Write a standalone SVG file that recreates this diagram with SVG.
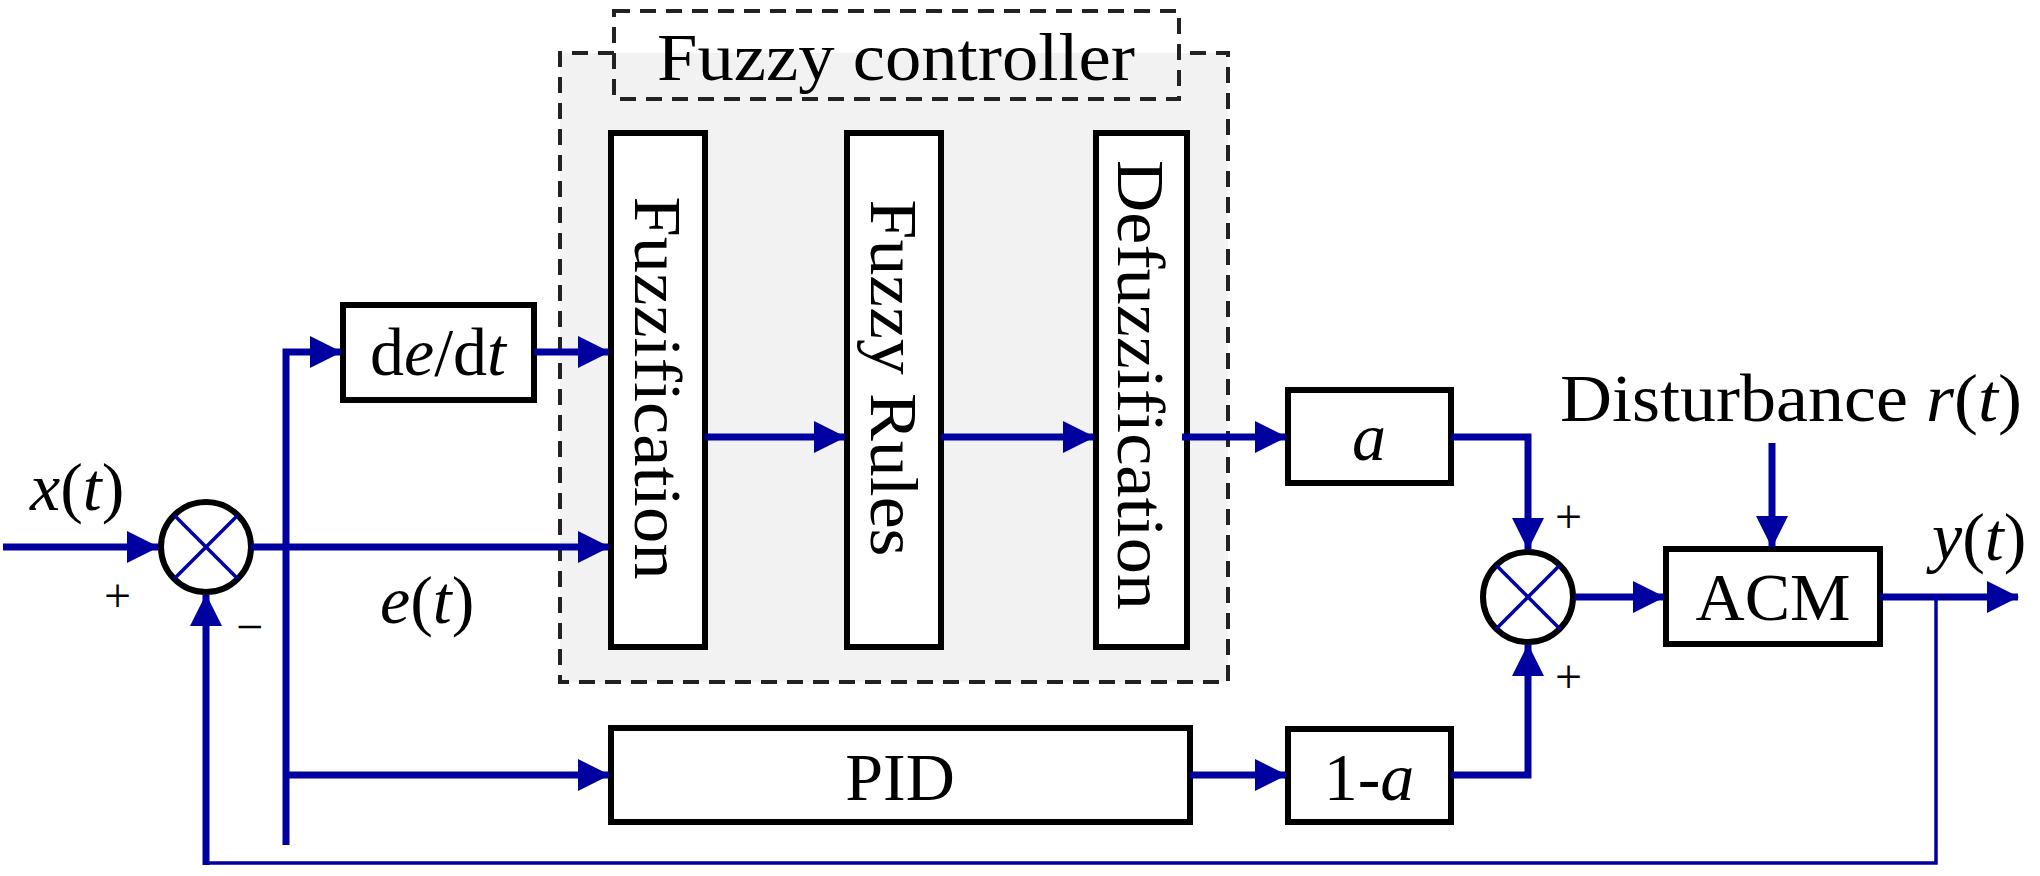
<svg xmlns="http://www.w3.org/2000/svg" width="2040" height="876" viewBox="0 0 2040 876">
<style>
.box{fill:#fff;stroke:#000;stroke-width:6}
.dash{fill:none;stroke:#222;stroke-width:4;stroke-dasharray:16 10}
.w{stroke:#0000a0;stroke-width:7;fill:none}
.thin{stroke:#0000a0;stroke-width:3.5;fill:none}
.sum{fill:#fff;stroke:#000;stroke-width:6}
.x{stroke:#0000a0;stroke-width:3.5}
text{font-family:"Liberation Serif","DejaVu Serif",serif;font-size:68px;fill:#000}
.i{font-style:italic}
.pm{font-size:48px}
</style>
<defs>
<marker id="ah" markerUnits="userSpaceOnUse" markerWidth="32" markerHeight="32" refX="31" refY="16" orient="auto" viewBox="0 0 32 32">
<path d="M0,0 L32,16 L0,32 z" fill="#0000a0"/>
</marker>
</defs>
<g id="fuzzy-controller">
<path d="M560,53 H1228 V682 H560 z" fill="#f2f2f2"/>
<path class="dash" d="M614,53 H560 V682 H1228 V53 H1179"/>
<rect x="614" y="11" width="565" height="88" fill="#fff" class="dash"/>
<text x="896" y="80" text-anchor="middle" textLength="478" lengthAdjust="spacingAndGlyphs">Fuzzy controller</text>
</g>
<g id="fuzzification"><rect class="box" x="611" y="133" width="94" height="514"/>
<text transform="translate(658,388) rotate(90)" text-anchor="middle" dominant-baseline="central" textLength="383" lengthAdjust="spacingAndGlyphs">Fuzzification</text></g>
<g id="fuzzy-rules"><rect class="box" x="847" y="133" width="94" height="514"/>
<text transform="translate(894,378) rotate(90)" text-anchor="middle" dominant-baseline="central" textLength="357" lengthAdjust="spacingAndGlyphs">Fuzzy Rules</text></g>
<g id="defuzzification"><rect class="box" x="1096" y="133" width="91" height="514"/>
<text transform="translate(1141,385) rotate(90)" text-anchor="middle" dominant-baseline="central" textLength="450" lengthAdjust="spacingAndGlyphs">Defuzzification</text></g>
<g id="dedt"><rect class="box" x="343" y="305" width="191" height="95"/>
<text x="438" y="375" text-anchor="middle">d<tspan class="i">e</tspan>/d<tspan class="i">t</tspan></text></g>
<g id="gain-a"><rect class="box" x="1288" y="390" width="163" height="93"/>
<text x="1369" y="460" text-anchor="middle" class="i">a</text></g>
<g id="gain-1-a"><rect class="box" x="1288" y="729" width="163" height="93"/>
<text x="1369" y="800" text-anchor="middle">1-<tspan class="i">a</tspan></text></g>
<g id="pid"><rect class="box" x="611" y="728" width="579" height="94"/>
<text x="900" y="800" text-anchor="middle">PID</text></g>
<g id="acm"><rect class="box" x="1666" y="549" width="214" height="95"/>
<text x="1773" y="620" text-anchor="middle">ACM</text></g>
<g id="sum1"><circle class="sum" cx="206" cy="547" r="45"/>
<line class="x" x1="174" y1="515" x2="238" y2="579"/><line class="x" x1="238" y1="515" x2="174" y2="579"/></g>
<g id="sum2"><circle class="sum" cx="1528" cy="597" r="45"/>
<line class="x" x1="1496" y1="565" x2="1560" y2="629"/><line class="x" x1="1560" y1="565" x2="1496" y2="629"/></g>
<g id="connectors">
<path class="w" d="M3,547 H158" marker-end="url(#ah)"/>
<path class="w" d="M251,547 H609" marker-end="url(#ah)"/>
<path class="w" d="M286,845 V352 H341" marker-end="url(#ah)"/>
<path class="w" d="M286,775 H609" marker-end="url(#ah)"/>
<path class="w" d="M534,352 H609" marker-end="url(#ah)"/>
<path class="w" d="M705,437 H845" marker-end="url(#ah)"/>
<path class="w" d="M941,437 H1094" marker-end="url(#ah)"/>
<path class="w" d="M1182,437 H1286" marker-end="url(#ah)"/>
<path class="w" d="M1190,775 H1286" marker-end="url(#ah)"/>
<path class="w" d="M1451,437 H1528 V549" marker-end="url(#ah)"/>
<path class="w" d="M1451,775 H1528 V645" marker-end="url(#ah)"/>
<path class="w" d="M1575,597 H1664" marker-end="url(#ah)"/>
<path class="w" d="M1772,443 V547" marker-end="url(#ah)"/>
<path class="w" d="M1880,597 H2018" marker-end="url(#ah)"/>
<path class="thin" d="M1936,597 V863 H206"/>
<path class="w" d="M206,865 V595" marker-end="url(#ah)"/>
</g>
<g id="labels">
<text x="30" y="510" class="i">x<tspan font-style="normal">(</tspan>t<tspan font-style="normal">)</tspan></text>
<text x="380" y="623" class="i">e<tspan font-style="normal">(</tspan>t<tspan font-style="normal">)</tspan></text>
<text x="1932" y="560" class="i">y<tspan font-style="normal">(</tspan>t<tspan font-style="normal">)</tspan></text>
<text x="1560" y="421" textLength="462" lengthAdjust="spacingAndGlyphs">Disturbance <tspan class="i">r</tspan>(<tspan class="i">t</tspan>)</text>
<text x="104" y="612" class="pm">+</text>
<text x="236" y="643" class="pm">−</text>
<text x="1555" y="533" class="pm">+</text>
<text x="1555" y="693" class="pm">+</text>
</g>
</svg>
